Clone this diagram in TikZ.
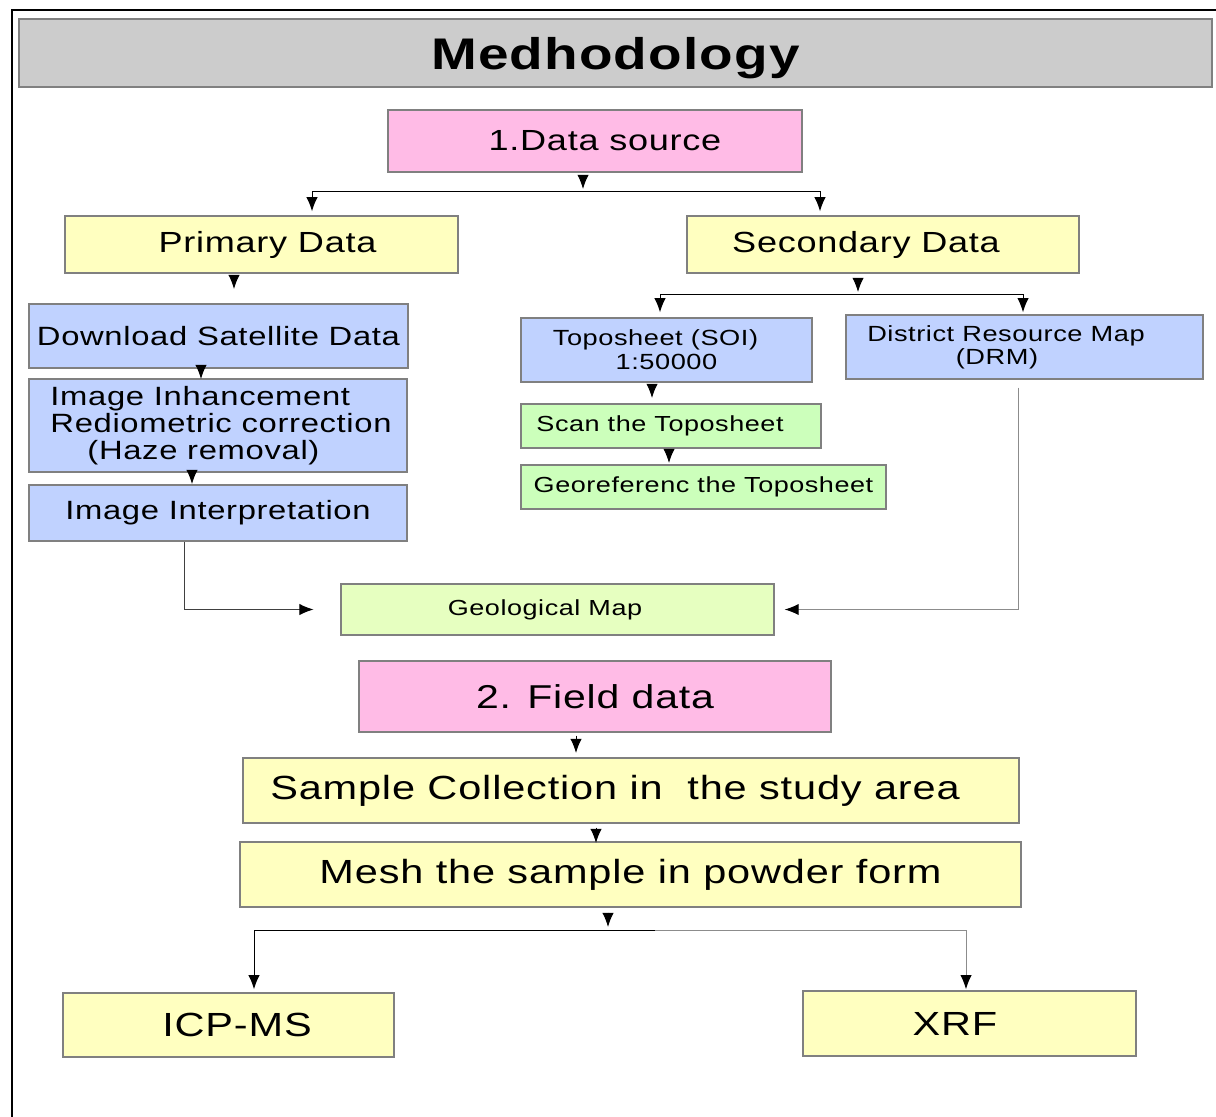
\documentclass[tikz,border=0pt]{standalone}
\usepackage{fontspec}
\setmainfont{Liberation Sans}[FakeStretch=1.24,LetterSpace=2.5]
\usetikzlibrary{arrows.meta}

\definecolor{titlegray}{HTML}{CCCCCC}
\definecolor{pinkbox}{HTML}{FFBBE6}
\definecolor{yellowbox}{HTML}{FFFFC0}
\definecolor{bluebox}{HTML}{C0D2FF}
\definecolor{greenbox}{HTML}{CCFFBB}
\definecolor{limebox}{HTML}{E6FFC0}
\definecolor{boxline}{HTML}{808080}
\definecolor{linegray}{HTML}{8C8C8C}

% 1 单位 = 1 像素
\newdimen\pxu \pxu=0.025cm
\newcommand{\padr}[1]{\hspace*{#1\pxu}\mbox{}}
\newcommand{\padl}[1]{\mbox{}\hspace*{#1\pxu}}

\tikzset{
  box/.style={draw=boxline, line width=1.1pt, inner sep=0pt, align=center},
  wh/.style 2 args={minimum width=#1*0.025cm, minimum height=#2*0.025cm},
  arr/.style={-{Latex[length=10pt,width=8pt,black]}},
  tbig/.style={font=\fontsize{23.8}{28}\selectfont},
  tmid/.style={font=\fontsize{20.7}{24}\selectfont},
  tblue/.style={font=\fontsize{18.8}{19.2}\selectfont},
  tsmall/.style={font=\fontsize{15.5}{16.8}\selectfont},
}

\begin{document}
\begin{tikzpicture}[x=0.025cm, y=-0.025cm, line width=0.7pt]
  \fill[white] (0,0) rectangle (1216,1117);
  \useasboundingbox (0,0) rectangle (1216,1117);
  % 外框
  \draw[line width=1.4pt] (12,1117) -- (12,10) -- (1216,10);

  \node[box, wh={1193}{68}, fill=titlegray, text depth=0pt, font=\fontsize{31.5}{36}\selectfont\bfseries]
    (title) at (615.5,53) {Medhodology};
  \node[box, wh={414}{62}, fill=pinkbox, tmid] (src) at (595,141) {\padl{20}1.Data source};

  % 第一层：原始资料 / 二手资料
  \node[box, wh={393}{57}, fill=yellowbox, tmid] (prim) at (261.5,244.5) {\padl{12}Primary Data};
  \node[box, wh={392}{57}, fill=yellowbox, tmid] (sec)  at (883,244.5) {Secondary Data\padr{34}};

  \node[box, wh={379}{64}, fill=bluebox, tblue] (dsd) at (218.5,336) {Download Satellite Data};
  \node[box, wh={378}{93}, fill=bluebox, tblue, align=left] (inh) at (218,425.5)
    {\hspace*{6\pxu}Image Inhancement\\\hspace*{6\pxu}Rediometric correction\\\hspace*{43\pxu}(Haze removal)};
  \node[box, wh={378}{56}, fill=bluebox, tblue] (interp) at (218,513) {Image Interpretation};

  \node[box, wh={291}{64}, fill=bluebox, font=\fontsize{15.6}{17}\selectfont] (topo) at (666.5,350)
    {Toposheet (SOI)\padr{22}\\1:50000};
  \node[box, wh={357}{64}, fill=bluebox, font=\fontsize{15.6}{16.4}\selectfont] (drm) at (1024.5,347)
    {District Resource Map\padr{37}\\(DRM)\padr{55}};
  \node[box, wh={300}{44}, fill=greenbox, tsmall] (scan) at (671,426) {Scan the Toposheet\padr{22}};
  \node[box, wh={365}{44}, fill=greenbox, tsmall] (geo)  at (703.5,487) {Georeferenc the Toposheet};

  \node[box, wh={433}{51}, fill=limebox, tsmall] (geomap) at (557.5,609.5) {Geological Map\padr{25}};

  % 第二部分：野外资料
  \node[box, wh={472}{71}, fill=pinkbox, font=\fontsize{23.5}{28}\selectfont] (field) at (595,696.5) {2. Field data};
  \node[box, wh={776}{65}, fill=yellowbox, tbig] (sample) at (631,790.5)
    {Sample Collection in \ the study area\padr{32}};
  \node[box, wh={781}{65}, fill=yellowbox, tbig] (mesh) at (630.5,874.5) {Mesh the sample in powder form};
  \node[box, wh={331}{64}, fill=yellowbox, tbig] (icp) at (228.5,1025) {\padl{17}ICP-MS};
  \node[box, wh={333}{65}, fill=yellowbox, tbig] (xrf) at (969.5,1023.5) {XRF\padr{29}};

  % 箭头端点
  \coordinate (s1) at (583,189);
  \coordinate (s2) at (234,289);
  \coordinate (s3) at (858,292);
  \coordinate (s4) at (201,379);
  \coordinate (s5) at (192,484);
  \coordinate (s6) at (652,398);
  \coordinate (s7) at (669,463);
  \coordinate (s8) at (576,753);
  \coordinate (s9) at (596,843);
  \coordinate (s10) at (608,927);

  \draw[arr, shorten <=5.6pt] (src.south -| s1) -- (s1);
  \draw[arr, shorten <=2.1pt] (prim.south -| s2) -- (s2);
  \draw[arr, shorten <=4.2pt] (sec.south -| s3) -- (s3);
  \draw[arr, shorten <=0.7pt] (dsd.south -| s4) -- (s4);
  \draw[arr, shorten <=0.7pt] (inh.south -| s5) -- (s5);
  \draw[arr, shorten <=1.4pt] (topo.south -| s6) -- (s6);
  \draw[arr, shorten <=0.7pt] (scan.south -| s7) -- (s7);
  \draw[arr, shorten <=2.1pt] (field.south -| s8) -- (s8);
  \draw[arr, shorten <=2.8pt] (sample.south -| s9) -- (s9);
  \draw[arr, shorten <=3.5pt] (mesh.south -| s10) -- (s10);

  % 分叉线
  \coordinate (f1l) at (312,191);
  \coordinate (f1r) at (820,191);
  \draw (f1l) -- (f1r);
  \draw[arr, shorten >=2.8pt] (f1l) -- (f1l |- prim.north);
  \draw[arr, shorten >=2.8pt] (f1r) -- (f1r |- sec.north);

  \coordinate (f2l) at (660,294);
  \coordinate (f2r) at (1023,294);
  \draw (f2l) -- (f2r);
  \draw[arr, shorten >=3.5pt] (f2l) -- (f2l |- topo.north);
  \draw[arr, shorten >=1.4pt] (f2r) -- (f2r |- drm.north);

  \coordinate (f3l) at (254,930);
  \coordinate (f3m) at (655,930);
  \coordinate (f3r) at (966,930);
  \draw (f3l) -- (f3m);
  \draw[linegray] (f3m) -- (f3r);
  \draw[arr, shorten >=2.1pt] (f3l) -- (f3l |- icp.north);
  \draw[arr, draw=linegray, shorten >=0.7pt] (f3r) -- (f3r |- xrf.north);

  % 汇入地质图
  \coordinate (c1) at (184,611);
  \coordinate (c2) at (1018,611);
  \draw[arr, draw=black!75, shorten >=19pt] (interp.south -| c1) |- (geomap.west);
  \draw[arr, draw=linegray, shorten <=5.6pt, shorten >=7pt] (drm.south -| c2) |- (geomap.east);
\end{tikzpicture}
\end{document}
